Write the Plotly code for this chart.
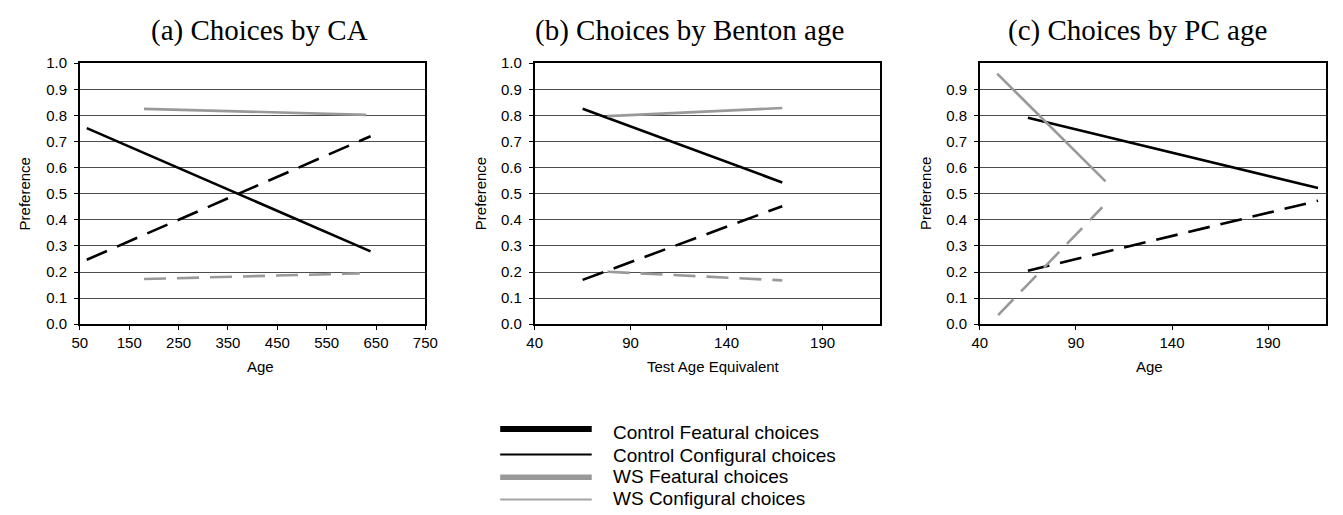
import plotly.graph_objects as go

W, H = 1343, 515

# Panel (a): preference by chronological age
ca_ctrl_age = [64, 639]
ca_ctrl_feat = [0.751, 0.279]
ca_ctrl_conf = [0.247, 0.720]
ca_ws_feat_age = [180, 630]
ca_ws_feat = [0.825, 0.802]
ca_ws_conf_age = [180, 617]
ca_ws_conf = [0.173, 0.195]

# Panel (b): preference by Benton test age equivalent
bt_ctrl_age = [65, 169]
bt_ctrl_feat = [0.825, 0.543]
bt_ctrl_conf = [0.170, 0.452]
bt_ws_age = [78, 169]
bt_ws_feat = [0.797, 0.828]
bt_ws_conf = [0.201, 0.168]

# Panel (c): preference by PC age
pc_ctrl_age = [65, 216]
pc_ctrl_feat = [0.791, 0.522]
pc_ctrl_conf = [0.205, 0.473]
pc_ws_feat_age = [49, 105.4]
pc_ws_feat = [0.960, 0.547]
pc_ws_conf_age = [49.5, 103.7]
pc_ws_conf = [0.035, 0.448]

titles = ["(a) Choices by CA", "(b) Choices by Benton age", "(c) Choices by PC age"]
x_titles = ["Age", "Test Age Equivalent", "Age"]
ca_ticks = [50, 150, 250, 350, 450, 550, 650, 750]
age_ticks = [40, 90, 140, 190]
pref_ticks = [0.0, 0.1, 0.2, 0.3, 0.4, 0.5, 0.6, 0.7, 0.8, 0.9, 1.0]
pref_ticks_c = [0.0, 0.1, 0.2, 0.3, 0.4, 0.5, 0.6, 0.7, 0.8, 0.9]

legend_names = ["Control Featural choices", "Control Configural choices",
                "WS Featural choices", "WS Configural choices"]

BLACK = "#000000"
GRAY = "#999999"
DASH = "22px,11px"

def px_x(x):
    return x / W

def px_y(y):
    return 1 - y / H

fig = go.Figure()

panels = [
    ("x", "y", ca_ctrl_age, ca_ctrl_feat, ca_ctrl_age, ca_ctrl_conf,
     ca_ws_feat_age, ca_ws_feat, ca_ws_conf_age, ca_ws_conf),
    ("x2", "y2", bt_ctrl_age, bt_ctrl_feat, bt_ctrl_age, bt_ctrl_conf,
     bt_ws_age, bt_ws_feat, bt_ws_age, bt_ws_conf),
    ("x3", "y3", pc_ctrl_age, pc_ctrl_feat, pc_ctrl_age, pc_ctrl_conf,
     pc_ws_feat_age, pc_ws_feat, pc_ws_conf_age, pc_ws_conf),
]

for xa, ya, cfx, cfy, ccx, ccy, wfx, wfy, wcx, wcy in panels:
    fig.add_trace(go.Scatter(x=cfx, y=cfy, mode="lines", xaxis=xa, yaxis=ya,
                             line=dict(color=BLACK, width=2.6), showlegend=False))
    fig.add_trace(go.Scatter(x=ccx, y=ccy, mode="lines", xaxis=xa, yaxis=ya,
                             line=dict(color=BLACK, width=2.6, dash=DASH), showlegend=False))
    fig.add_trace(go.Scatter(x=wfx, y=wfy, mode="lines", xaxis=xa, yaxis=ya,
                             line=dict(color=GRAY, width=2.6), showlegend=False))
    fig.add_trace(go.Scatter(x=wcx, y=wcy, mode="lines", xaxis=xa, yaxis=ya,
                             line=dict(color=GRAY, width=2.6, dash=DASH), showlegend=False))

y_dom = [px_y(326), px_y(56)]
x_doms = [[px_x(73), px_x(424)], [px_x(535), px_x(886)], [px_x(987.3), px_x(1338.7)]]

tick_font = dict(family="Liberation Sans, Arial, sans-serif", size=15, color="black")

common_x = dict(showgrid=False, zeroline=False, showline=True, mirror=True,
                linecolor="black", linewidth=1.5, ticks="outside", ticklen=4,
                tickcolor="black", tickfont=tick_font)
common_y = dict(range=[0, 1], showgrid=True, gridcolor="#4d4d4d", gridwidth=1,
                zeroline=False, showline=True, mirror=True, linecolor="black",
                linewidth=1.5, ticks="outside", ticklen=4, tickcolor="black",
                ticklabelstandoff=4, tickformat=".1f", tickfont=tick_font)

layout = dict(
    width=W, height=H,
    margin=dict(l=0, r=0, t=0, b=0),
    paper_bgcolor="white", plot_bgcolor="white",
    showlegend=False,
    xaxis=dict(domain=x_doms[0], range=[50, 750], tickvals=ca_ticks, anchor="y", **common_x),
    yaxis=dict(domain=y_dom, tickvals=pref_ticks, anchor="x", **common_y),
    xaxis2=dict(domain=x_doms[1], range=[40, 220], tickvals=age_ticks, anchor="y2", **common_x),
    yaxis2=dict(domain=y_dom, tickvals=pref_ticks, anchor="x2", **common_y),
    xaxis3=dict(domain=x_doms[2], range=[40, 220], tickvals=age_ticks, anchor="y3", **common_x),
    yaxis3=dict(domain=y_dom, tickvals=pref_ticks_c, anchor="x3", **common_y),
)
fig.update_layout(**layout)

annotations = []
title_cx = [255, 692.5, 1147]
for t, cx in zip(titles, title_cx):
    annotations.append(dict(text=t, x=px_x(cx), y=px_y(22), xref="paper", yref="paper",
                            xanchor="center", yanchor="middle", showarrow=False,
                            font=dict(family="Liberation Serif, Times New Roman, serif",
                                      size=29, color="black")))

xt_cx = [256.7, 717, 1160]
for t, cx in zip(x_titles, xt_cx):
    annotations.append(dict(text=t, x=px_x(cx), y=px_y(370), xref="paper", yref="paper",
                            xanchor="center", yanchor="middle", showarrow=False,
                            font=dict(family="Liberation Sans, Arial, sans-serif",
                                      size=15, color="black")))

for cx in [17, 480, 932]:
    annotations.append(dict(text="Preference", x=px_x(cx), y=px_y(191), xref="paper",
                            yref="paper", xanchor="center", yanchor="middle",
                            textangle=-90, showarrow=False,
                            font=dict(family="Liberation Sans, Arial, sans-serif",
                                      size=15, color="black")))

# Legend drawn as line samples with labels beneath the panels
legend_line_y = [434.3, 460.7, 484.3, 507.3]
legend_text_y = [438, 462, 483, 506]
legend_styles = [(BLACK, 6), (BLACK, 2), (GRAY, 5.5), ("#a6a6a6", 2)]
shapes = []
for name, ly, ty, (col, w) in zip(legend_names, legend_line_y, legend_text_y, legend_styles):
    shapes.append(dict(type="line", xref="paper", yref="paper",
                       x0=px_x(500), x1=px_x(593), y0=px_y(ly), y1=px_y(ly),
                       line=dict(color=col, width=w)))
    annotations.append(dict(text=name, x=px_x(613), y=px_y(ty), xref="paper", yref="paper",
                            xanchor="left", yanchor="middle", showarrow=False,
                            font=dict(family="Liberation Sans, Arial, sans-serif",
                                      size=19, color="black")))

fig.update_layout(annotations=annotations, shapes=shapes)

fig.write_html("out.html")
